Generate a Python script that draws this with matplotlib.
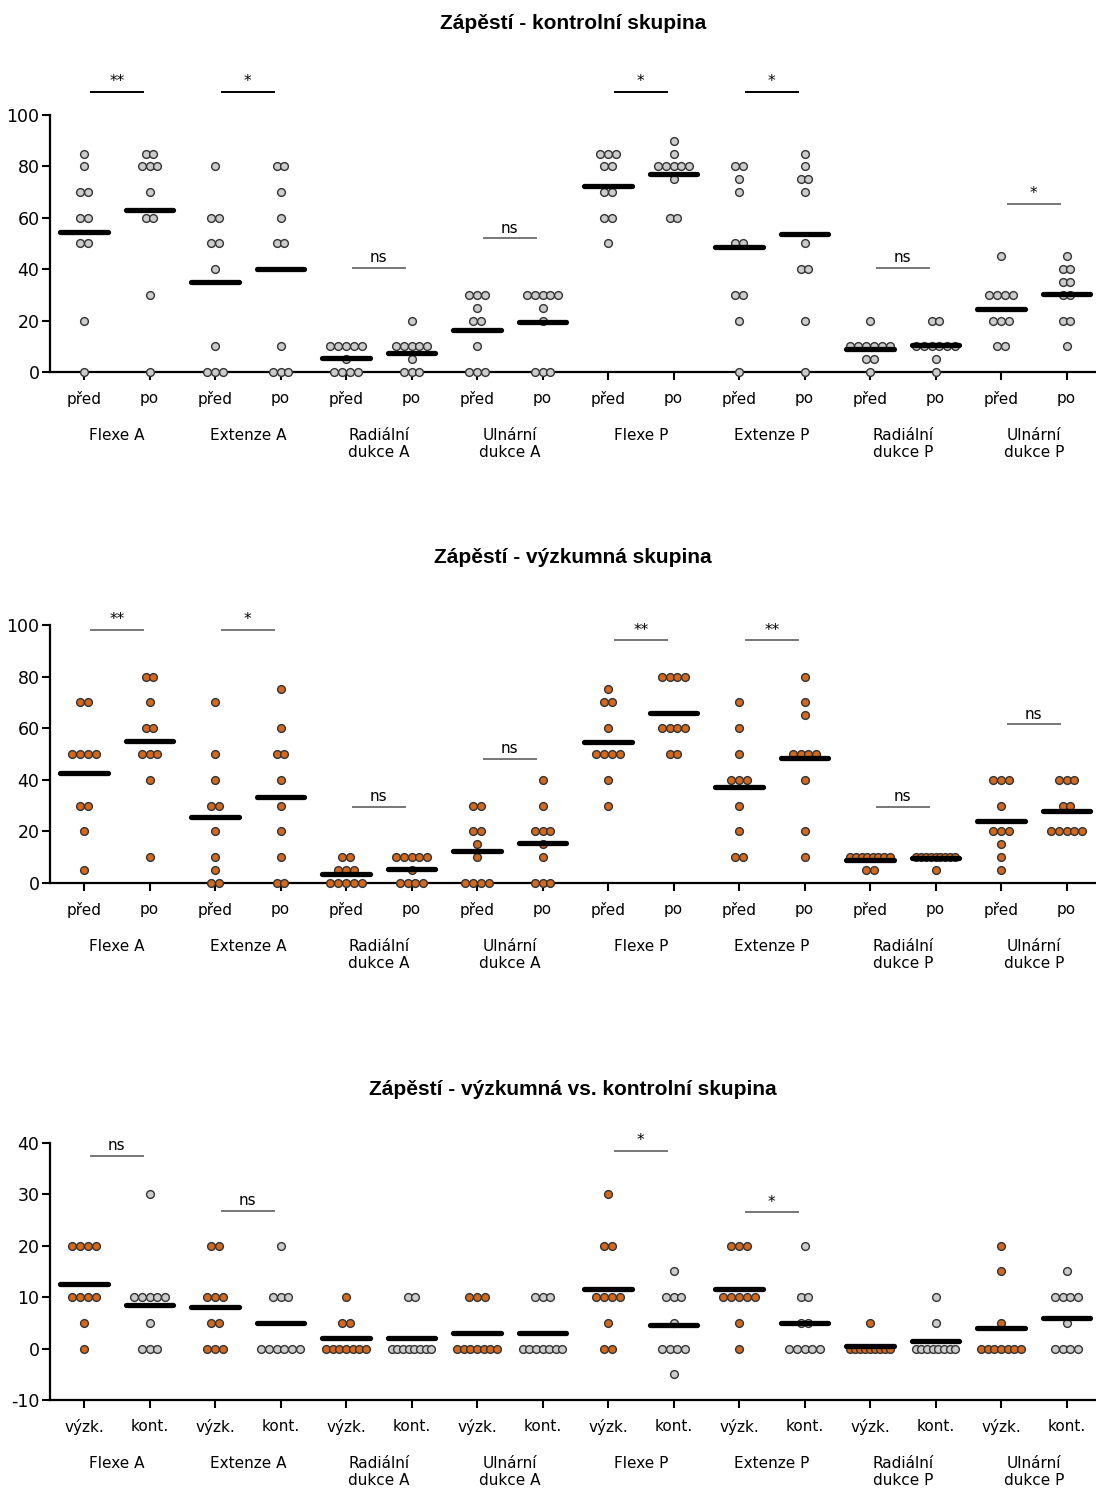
import numpy as np
import matplotlib
matplotlib.use('Agg')
import matplotlib.pyplot as plt
from matplotlib import font_manager

# category labels
groups = ['Flexe A', 'Extenze A', 'Radiální\ndukce A', 'Ulnární\ndukce A',
          'Flexe P', 'Extenze P', 'Radiální\ndukce P', 'Ulnární\ndukce P']
pair_labels = ['před', 'po']
diff_labels = ['výzk.', 'kont.']

titles = ['Zápěstí - kontrolní skupina',
          'Zápěstí - výzkumná skupina',
          'Zápěstí - výzkumná vs. kontrolní skupina']

# control group, before / after for each movement
control_values = [
    [85, 80, 70, 70, 60, 60, 50, 50, 20, 0],
    [85, 85, 80, 80, 80, 70, 60, 60, 30, 0],
    [80, 60, 60, 50, 50, 40, 10, 0, 0, 0],
    [80, 80, 70, 60, 50, 50, 10, 0, 0, 0],
    [10, 10, 10, 10, 10, 5, 0, 0, 0, 0],
    [20, 10, 10, 10, 10, 10, 5, 0, 0, 0],
    [30, 30, 30, 25, 20, 20, 10, 0, 0, 0],
    [30, 30, 30, 30, 30, 25, 20, 0, 0, 0],
    [85, 85, 85, 80, 80, 70, 70, 60, 60, 50],
    [90, 85, 80, 80, 80, 80, 80, 75, 60, 60],
    [80, 80, 75, 70, 50, 50, 30, 30, 20, 0],
    [85, 80, 75, 75, 70, 50, 40, 40, 20, 0],
    [20, 10, 10, 10, 10, 10, 10, 5, 5, 0],
    [20, 20, 10, 10, 10, 10, 10, 10, 5, 0],
    [45, 30, 30, 30, 30, 20, 20, 20, 10, 10],
    [45, 40, 40, 35, 35, 30, 30, 20, 20, 10],
]

# research group, before / after
research_values = [
    [70, 70, 50, 50, 50, 50, 30, 30, 20, 5],
    [80, 80, 70, 60, 60, 50, 50, 50, 40, 10],
    [70, 50, 40, 30, 30, 20, 10, 5, 0, 0],
    [75, 60, 50, 50, 40, 30, 20, 10, 0, 0],
    [10, 10, 5, 5, 5, 0, 0, 0, 0, 0],
    [10, 10, 10, 10, 10, 5, 0, 0, 0, 0],
    [30, 30, 20, 20, 15, 10, 0, 0, 0, 0],
    [40, 30, 20, 20, 20, 15, 10, 0, 0, 0],
    [75, 70, 70, 60, 50, 50, 50, 50, 40, 30],
    [80, 80, 80, 80, 60, 60, 60, 60, 50, 50],
    [70, 60, 50, 40, 40, 40, 30, 20, 10, 10],
    [80, 70, 65, 50, 50, 50, 50, 40, 20, 10],
    [10, 10, 10, 10, 10, 10, 10, 10, 5, 5],
    [10, 10, 10, 10, 10, 10, 10, 10, 10, 5],
    [40, 40, 40, 30, 20, 20, 20, 15, 10, 5],
    [40, 40, 40, 30, 30, 20, 20, 20, 20, 20],
]

# improvement, research (výzk.) vs control (kont.)
diff_values = [
    [20, 20, 20, 20, 10, 10, 10, 10, 5, 0],
    [30, 10, 10, 10, 10, 10, 5, 0, 0, 0],
    [20, 20, 10, 10, 10, 5, 5, 0, 0, 0],
    [20, 10, 10, 10, 0, 0, 0, 0, 0, 0],
    [10, 5, 5, 0, 0, 0, 0, 0, 0, 0],
    [10, 10, 0, 0, 0, 0, 0, 0, 0, 0],
    [10, 10, 10, 0, 0, 0, 0, 0, 0, 0],
    [10, 10, 10, 0, 0, 0, 0, 0, 0, 0],
    [30, 20, 20, 10, 10, 10, 10, 5, 0, 0],
    [15, 10, 10, 10, 5, 0, 0, 0, 0, -5],
    [20, 20, 20, 10, 10, 10, 10, 10, 5, 0],
    [20, 10, 10, 5, 5, 0, 0, 0, 0, 0],
    [5, 0, 0, 0, 0, 0, 0, 0, 0, 0],
    [10, 5, 0, 0, 0, 0, 0, 0, 0, 0],
    [20, 15, 5, 0, 0, 0, 0, 0, 0, 0],
    [15, 10, 10, 10, 10, 5, 0, 0, 0, 0],
]

# significance: (first index of pair, bar height, label)
control_sig = [(0, 109, '**'), (2, 109, '*'), (4, 40.5, 'ns'), (6, 52, 'ns'),
               (8, 109, '*'), (10, 109, '*'), (12, 40.5, 'ns'), (14, 65.5, '*')]
research_sig = [(0, 98, '**'), (2, 98, '*'), (4, 29.5, 'ns'), (6, 48, 'ns'),
                (8, 94, '**'), (10, 94, '**'), (12, 29.5, 'ns'), (14, 61.5, 'ns')]
diff_sig = [(0, 37.5, 'ns'), (2, 26.8, 'ns'), (8, 38.5, '*'), (10, 26.5, '*')]

orange = '#d2691e'
grey = '#cccccc'

installed = {f.name for f in font_manager.fontManager.ttflist}
title_font = 'Liberation Sans Narrow' if 'Liberation Sans Narrow' in installed else 'Liberation Sans'
plt.rcParams['font.family'] = 'DejaVu Sans'
plt.rcParams['axes.unicode_minus'] = False


def swarm(ax, x, vals, color):
    vals = np.array(vals)
    for v in np.unique(vals):
        n = np.sum(vals == v)
        dx = 0.12 if n < 2 else min(0.12, 0.6 / (n - 1))
        xs = x + (np.arange(n) - (n - 1) / 2) * dx
        ax.plot(xs, [v] * n, 'o', ms=5.6, mfc=color, mec='#333333', mew=1.0,
                clip_on=False, zorder=4)
    m = vals.mean()
    ax.hlines(m, x - 0.36, x + 0.36, color='black', lw=3.8, zorder=5,
              clip_on=False, capstyle='round')


def panel(ax, data, colors, ticklabels, sig, ylim, yticks, bold_bars=()):
    for i, vals in enumerate(data):
        swarm(ax, i, vals, colors[i % 2])
    for k, (i, h, lab) in enumerate(sig):
        col = 'black' if k in bold_bars else '#777777'
        ax.plot([i + 0.1, i + 0.9], [h, h], color=col, lw=1.4, clip_on=False)
        ax.annotate(lab, (i + 0.5, h), xytext=(0, 2), textcoords='offset points',
                    ha='center', va='bottom', fontsize=11, annotation_clip=False)
    ax.set_xlim(-0.52, 15.45)
    ax.set_ylim(*ylim)
    ax.set_yticks(yticks)
    ax.set_xticks(range(16))
    ax.set_xticklabels(ticklabels * 8)
    ax.tick_params(axis='x', length=6, width=1.5, pad=8, labelsize=11)
    ax.tick_params(axis='y', length=6, width=1.5, pad=1.5, labelsize=12.5)
    for s in ['top', 'right']:
        ax.spines[s].set_visible(False)
    for s in ['left', 'bottom']:
        ax.spines[s].set_linewidth(1.6)
    for g, name in enumerate(groups):
        ax.annotate(name, (2 * g + 0.5, 0), xycoords=('data', 'axes fraction'),
                    xytext=(0, -56), textcoords='offset pixels', ha='center',
                    va='top', fontsize=11, linespacing=1.2,
                    annotation_clip=False)


fig = plt.figure(figsize=(10.96, 14.97), dpi=100)
ax1 = fig.add_axes([0.0456, 0.7515, 0.9544, 0.1717])
ax2 = fig.add_axes([0.0456, 0.4102, 0.9544, 0.1723])
ax3 = fig.add_axes([0.0456, 0.0648, 0.9544, 0.1717])

panel(ax1, control_values, [grey, grey], pair_labels, control_sig,
      (0, 100), range(0, 101, 20), bold_bars=(0, 1, 4, 5))
panel(ax2, research_values, [orange, orange], pair_labels, research_sig,
      (0, 100), range(0, 101, 20))
panel(ax3, diff_values, [orange, grey], diff_labels, diff_sig,
      (-10, 40), range(-10, 41, 10))

for t, y in zip(titles, [0.984, 0.6273, 0.2719]):
    fig.text(0.5228, y, t, ha='center', va='center', fontsize=15,
             fontweight='bold', family=title_font)

fig.savefig('out.png', dpi=100)
